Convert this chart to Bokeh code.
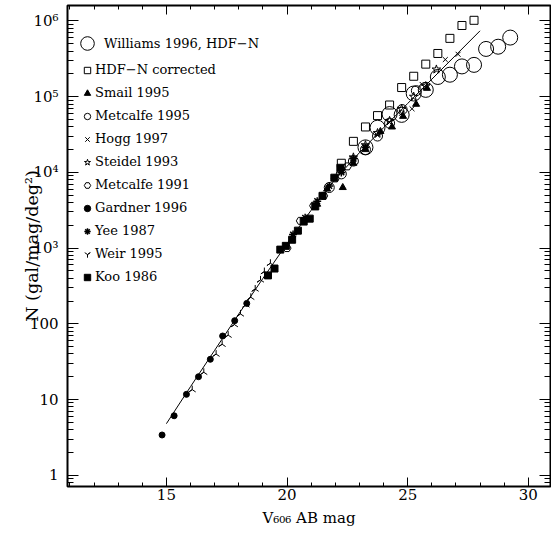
import numpy as np
from bokeh.plotting import figure
from bokeh.models import (Range1d, FixedTicker, LinearAxis, LogAxis, Legend, LegendItem,
                          CustomJSTickFormatter)
from bokeh.embed import file_html
from bokeh.resources import INLINE

# ---------------- data ----------------
line_mag = [15, 16, 17, 18, 19, 20, 21, 22, 23, 24, 25, 26, 27, 28]
line_N = [4.8, 14.8, 44.7, 135, 398, 1150, 3160, 8130, 18200, 38900, 81300, 170000, 355000, 741000]

williams_mag = [23.25, 23.75, 24.25, 24.75, 25.25, 25.75, 26.25, 26.75, 27.25, 27.75, 28.25, 28.75, 29.25]
williams_N = [21400, 38900, 58900, 57500, 110000, 123000, 182000, 195000, 251000, 263000, 427000, 457000, 603000]

hdfcorr_mag = [22.25, 22.75, 23.25, 23.75, 24.25, 24.75, 25.25, 25.75, 26.25, 26.75, 27.25, 27.75]
hdfcorr_N = [13200, 25700, 39800, 56200, 77600, 132000, 186000, 269000, 372000, 589000, 871000, 1020000]

smail_mag = [21.25, 21.66, 22.31, 22.75, 23.25, 23.87, 24.35, 24.81, 25.35, 25.80]
smail_N = [3800, 6030, 6310, 13200, 20000, 34700, 39800, 55000, 79400, 129000]

metcalfe95_mag = [21.75, 22.25, 22.75, 23.25, 23.75, 24.25, 24.77, 25.36]
metcalfe95_N = [6310, 9550, 14100, 20000, 30200, 44700, 67600, 120000]

hogg_mag = [23.25, 23.75, 24.25, 24.75, 25.18, 25.6, 26.56, 27.09]
hogg_N = [20900, 30900, 45700, 60300, 69200, 145000, 309000, 363000]

steidel_mag = [22.25, 22.75, 23.25, 23.75, 24.25, 24.75, 25.25, 25.75, 26.19]
steidel_N = [10500, 15800, 22900, 33100, 47900, 69200, 100000, 138000, 229000]

metcalfe91_mag = [20.0, 20.55, 21.1, 21.52, 22.0, 22.5]
metcalfe91_N = [1000, 2290, 3630, 4900, 8320, 12000]

gardner_mag = [14.82, 15.32, 15.83, 16.33, 16.82, 17.33, 17.83, 18.33]
gardner_N = [3.4, 6.1, 11.7, 20, 34, 69, 110, 186]

yee_mag = [20.25, 20.75, 21.25, 21.75, 22.25, 22.75, 23.25]
yee_N = [1510, 2510, 4170, 6610, 10000, 15100, 21400]

weir_mag = [16.07, 16.55, 17.06, 17.31, 17.56, 17.82, 18.07, 18.3, 18.5, 18.68, 18.9, 19.06, 19.31]
weir_N = [13.5, 22.9, 39.8, 53.7, 70.8, 97.7, 135, 178, 224, 288, 380, 490, 631]

koo_mag = [19.21, 19.48, 19.72, 19.95, 20.21, 20.45, 20.69, 20.94, 21.17, 21.47, 21.96, 22.21]
koo_N = [436, 537, 955, 1070, 1290, 1700, 2240, 2450, 3550, 4900, 8510, 11500]

x_major = [15, 20, 25, 30]
x_minor = list(range(11, 31))
y_major = [1, 10, 100, 1e3, 1e4, 1e5, 1e6]

FONT = "DejaVu Serif"

p = figure(width=551, height=533, y_axis_type="log", output_backend="svg",
           toolbar_location=None, x_range=Range1d(10.9, 30.92), y_range=Range1d(0.71, 1.6e6),
           min_border_left=67, min_border_right=1, min_border_top=5, min_border_bottom=47,
           background_fill_color="white", border_fill_color="white")
p.grid.visible = False
p.outline_line_color = "black"
p.outline_line_width = 2

y_minor = [k * 10.0 ** e for e in range(-1, 7) for k in range(2, 10)]
xt = FixedTicker(ticks=x_major, minor_ticks=x_minor)
yt = FixedTicker(ticks=y_major, minor_ticks=y_minor)

def style_axis(ax, major, minor):
    ax.axis_line_color = None
    ax.major_tick_in = major
    ax.major_tick_out = 0
    ax.minor_tick_in = minor
    ax.minor_tick_out = 0
    ax.major_tick_line_color = "black"
    ax.minor_tick_line_color = "black"
    ax.major_label_text_font = FONT
    ax.major_label_text_font_size = "15px"
    ax.major_label_text_color = "black"
    ax.axis_label_text_font = FONT
    ax.axis_label_text_font_size = "15px"
    ax.axis_label_text_font_style = "normal"
    ax.axis_label_text_color = "black"

xa = p.xaxis[0]
xa.ticker = xt
style_axis(xa, 9, 4)
xa.major_label_standoff = 2
xa.axis_label = "V\u2086\u2080\u2086 AB mag"
xa.axis_label_standoff = 6

ya = p.yaxis[0]
ya.ticker = yt
style_axis(ya, 11, 6)
ya.major_label_standoff = 9
ya.axis_label = "N (gal/mag/deg\u00b2)"
ya.axis_label_text_font_size = "17.5px"
ya.axis_label_standoff = -15
ya.formatter = CustomJSTickFormatter(code="""
const e = Math.round(Math.log10(tick));
const sup = {"0":"\u2070","1":"\u00b9","2":"\u00b2","3":"\u00b3","4":"\u2074","5":"\u2075","6":"\u2076","7":"\u2077","8":"\u2078","9":"\u2079"};
if (e >= 3) { return "10" + String(e).split("").map(c => sup[c]).join(""); }
return String(Math.round(tick));
""")

blank = CustomJSTickFormatter(code="return '';")
top = LinearAxis(ticker=xt, formatter=blank)
style_axis(top, 9, 4)
top.major_label_text_font_size = "1px"
top.major_label_standoff = 0
p.add_layout(top, "above")
right = LogAxis(ticker=yt, formatter=blank)
style_axis(right, 11, 6)
right.major_label_text_font_size = "1px"
right.major_label_standoff = 0
p.add_layout(right, "right")

# model line
p.line(line_mag, line_N, line_color="black", line_width=1)

r_koo = p.scatter(koo_mag, koo_N, marker="square", size=7, fill_color="black", line_color="black")
r_weir = p.scatter(weir_mag, weir_N, marker="y", size=8, angle=np.pi, line_color="black", line_width=1)
r_yee = p.scatter(yee_mag, yee_N, marker="asterisk", size=8, line_color="black", line_width=1.5)
r_gard = p.scatter(gardner_mag, gardner_N, marker="circle", size=6, fill_color="black", line_color="black")
r_m91 = p.scatter(metcalfe91_mag, metcalfe91_N, marker="hex", size=8, fill_color=None, line_color="black")
r_ste = p.scatter(steidel_mag, steidel_N, marker="star", size=9, fill_color=None, line_color="black")
r_hogg = p.scatter(hogg_mag, hogg_N, marker="x", size=7, line_color="black")
r_m95 = p.scatter(metcalfe95_mag, metcalfe95_N, marker="circle", size=10, fill_color=None, line_color="black")
r_smail = p.scatter(smail_mag, smail_N, marker="triangle", size=7, fill_color="black", line_color="black")
r_hdf = p.scatter(hdfcorr_mag, hdfcorr_N, marker="square", size=8, fill_color=None, line_color="black")
r_will = p.scatter(williams_mag, williams_N, marker="circle", size=15, fill_color=None, line_color="black")

def mk_legend(items, gw, gh, lh, loc, standoff, spacing):
    lg = Legend(items=items, location=loc, orientation="vertical",
                glyph_width=gw, glyph_height=gh, label_height=lh, label_standoff=standoff,
                spacing=spacing, padding=0, margin=0,
                label_text_font=FONT, label_text_font_size="13px", label_text_color="black",
                background_fill_alpha=0, border_line_alpha=0)
    return lg

leg1 = mk_legend([LegendItem(label="Williams 1996, HDF\u2212N", renderers=[r_will])],
                 34, 36, 36, (3, 425), 0, 0)
leg2 = mk_legend([
    LegendItem(label="HDF\u2212N corrected", renderers=[r_hdf]),
    LegendItem(label="Smail 1995", renderers=[r_smail]),
    LegendItem(label="Metcalfe 1995", renderers=[r_m95]),
    LegendItem(label="Hogg 1997", renderers=[r_hogg]),
    LegendItem(label="Steidel 1993", renderers=[r_ste]),
    LegendItem(label="Metcalfe 1991", renderers=[r_m91]),
    LegendItem(label="Gardner 1996", renderers=[r_gard]),
    LegendItem(label="Yee 1987", renderers=[r_yee]),
    LegendItem(label="Weir 1995", renderers=[r_weir]),
    LegendItem(label="Koo 1986", renderers=[r_koo]),
], 16, 16, 17, (12, 201), 0, 6)
p.add_layout(leg1)
p.add_layout(leg2)

open("out.html", "w").write(file_html(p, INLINE))
